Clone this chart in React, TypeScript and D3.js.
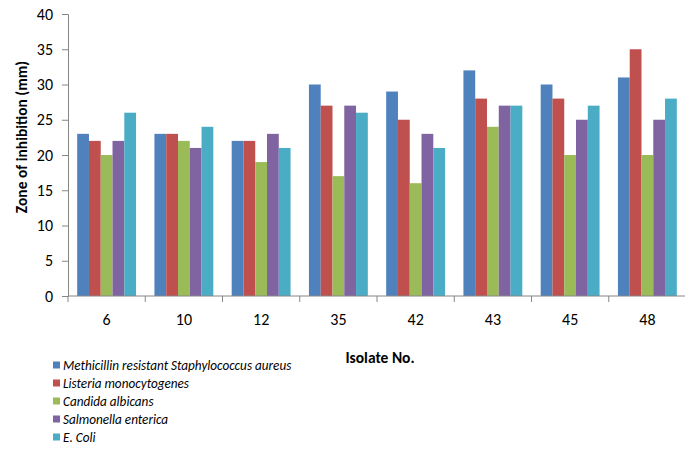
import React, { useEffect, useRef } from 'react';
import * as d3 from 'd3';

const isolates = ['6', '10', '12', '35', '42', '43', '45', '48'];
const organisms = [
  'Methicillin resistant Staphylococcus aureus',
  'Listeria monocytogenes',
  'Candida albicans',
  'Salmonella enterica',
  'E. Coli',
];
const mrsa = [23, 23, 22, 30, 29, 32, 30, 31];
const listeria = [22, 23, 22, 27, 25, 28, 28, 35];
const candida = [20, 22, 19, 17, 16, 24, 20, 20];
const salmonella = [22, 21, 23, 27, 23, 27, 25, 25];
const ecoli = [26, 24, 21, 26, 21, 27, 27, 28];
const yTicks = [0, 5, 10, 15, 20, 25, 30, 35, 40];
const colors = ['#4F81BD', '#C0504D', '#9BBB59', '#8064A2', '#4BACC6'];

const FONT = 'Carlito, Lato, "Open Sans", sans-serif';

const App: React.FC = () => {
  const svgRef = useRef<SVGSVGElement>(null);

  useEffect(() => {
    if (!svgRef.current) return;
    const svg = d3.select(svgRef.current);
    svg.selectAll('*').remove();

    const series = [mrsa, listeria, candida, salmonella, ecoli];
    const left = 68, right = 686, top = 14, bottom = 296;

    const x = d3.scaleBand<string>().domain(isolates).range([left, right]).paddingInner(0).paddingOuter(0);
    const inner = d3.scaleBand<number>()
      .domain(d3.range(series.length))
      .range([0, x.bandwidth()])
      .paddingOuter(0.78)
      .paddingInner(0);
    const y = d3.scaleLinear().domain([0, 40]).range([bottom, top]);

    const axisColor = '#868686';

    // bars
    const g = svg.append('g');
    series.forEach((vals, si) => {
      g.selectAll(null)
        .data(vals)
        .enter()
        .append('rect')
        .attr('x', (_d, i) => (x(isolates[i]) || 0) + (inner(si) || 0))
        .attr('y', d => y(d))
        .attr('width', inner.bandwidth())
        .attr('height', d => y(0) - y(d))
        .attr('fill', colors[si]);
    });

    // y axis
    const yAxis = d3.axisLeft(y).tickValues(yTicks).tickSize(6).tickPadding(9);
    const ya = svg.append('g').attr('transform', `translate(${left},0)`).call(yAxis);
    ya.selectAll('path, line').attr('stroke', axisColor);
    ya.selectAll('text').style('font-family', FONT).style('font-size', '16px').attr('fill', '#000');

    // x axis
    const xa = svg.append('g').attr('transform', `translate(0,${bottom})`);
    xa.append('line').attr('x1', left).attr('x2', right).attr('stroke', axisColor);
    xa.selectAll('line.tick')
      .data(isolates.concat(['end']))
      .enter()
      .append('line')
      .attr('class', 'tick')
      .attr('x1', (_d, i) => left + i * x.step())
      .attr('x2', (_d, i) => left + i * x.step())
      .attr('y1', 0)
      .attr('y2', 6)
      .attr('stroke', axisColor);
    xa.selectAll('text')
      .data(isolates)
      .enter()
      .append('text')
      .attr('x', d => (x(d) || 0) + x.bandwidth() / 2)
      .attr('y', 23)
      .attr('dy', '0.35em')
      .attr('text-anchor', 'middle')
      .style('font-family', FONT)
      .style('font-size', '16px')
      .text(d => d);

    // axis titles
    svg.append('text')
      .attr('x', 380)
      .attr('y', 358)
      .attr('dy', '0.35em')
      .attr('text-anchor', 'middle')
      .style('font-family', FONT)
      .style('font-size', '15.5px')
      .style('font-weight', 'bold')
      .text('Isolate No.');

    svg.append('text')
      .attr('transform', 'translate(22,137) rotate(-90)')
      .attr('dy', '0.35em')
      .attr('text-anchor', 'middle')
      .style('font-family', FONT)
      .style('font-size', '15.5px')
      .style('font-weight', 'bold')
      .text('Zone of inhibition (mm)');

    // legend
    const legend = svg.append('g');
    organisms.forEach((name, i) => {
      const ly = 365 + i * 18;
      legend.append('rect')
        .attr('x', 53)
        .attr('y', ly - 3.5)
        .attr('width', 7)
        .attr('height', 7)
        .attr('fill', colors[i]);
      legend.append('text')
        .attr('x', 63)
        .attr('y', ly)
        .attr('dy', '0.35em')
        .style('font-family', FONT)
        .style('font-size', '13.2px')
        .style('font-style', 'italic')
        .text(name);
    });
  }, []);

  return (
    <svg
      ref={svgRef}
      width={685}
      height={452}
      style={{ position: 'absolute', left: 0, top: 0, background: '#fff' }}
    />
  );
};

export default App;
